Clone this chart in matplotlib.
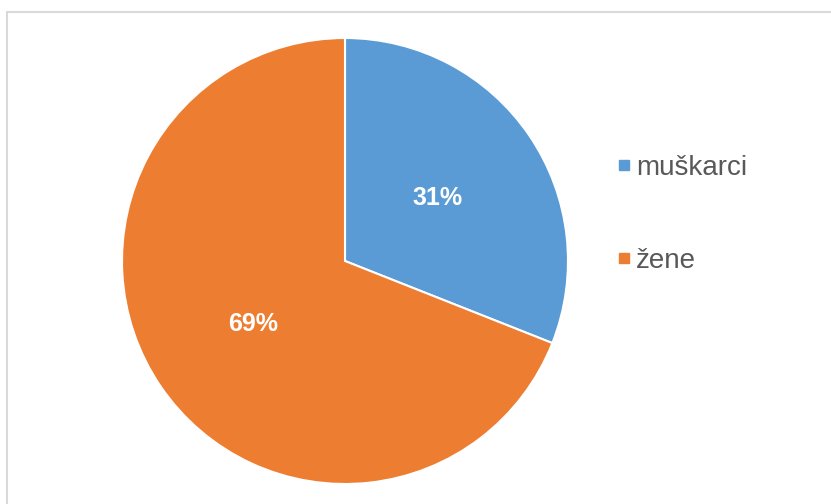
import matplotlib.pyplot as plt
from matplotlib.lines import Line2D
from matplotlib.patches import Rectangle

labels = ['muškarci', 'žene']
shares = [31, 69]
colors = ['#5B9BD5', '#ED7D31']

fig = plt.figure(figsize=(8.31, 5.04), dpi=100)
plt.rcParams['font.family'] = ['Liberation Sans', 'DejaVu Sans']

# light frame like the office chart area
fig.patches.append(Rectangle((7 / 831, -0.1), 1.2, (504 - 11.5) / 504 + 0.1,
                             transform=fig.transFigure, fill=False,
                             edgecolor='#d9d9d9', linewidth=1.5))

ax = fig.add_axes([122 / 831, 20 / 504, 446 / 831, 446 / 504])
wedges, texts, autotexts = ax.pie(
    shares, colors=colors, startangle=90, counterclock=False,
    autopct='%d%%', pctdistance=0.5, radius=1,
    wedgeprops=dict(edgecolor='white', linewidth=1.5))
for t in autotexts:
    t.set_color('white')
    t.set_fontweight('bold')
    t.set_fontsize(18)
ax.set_xlim(-1, 1)
ax.set_ylim(-1, 1)
ax.set_aspect('auto')

handles = [Line2D([], [], marker='s', linestyle='none', markersize=7,
                  markerfacecolor=c, markeredgecolor=c) for c in colors]
fig.legend(handles, labels, loc='upper left', bbox_to_anchor=(602 / 831, 1 - 141 / 504),
           frameon=False, fontsize=20, labelspacing=2.4, handlelength=0.6,
           handletextpad=0.12, labelcolor='#595959', borderpad=0)

fig.savefig('out.png', dpi=100)
